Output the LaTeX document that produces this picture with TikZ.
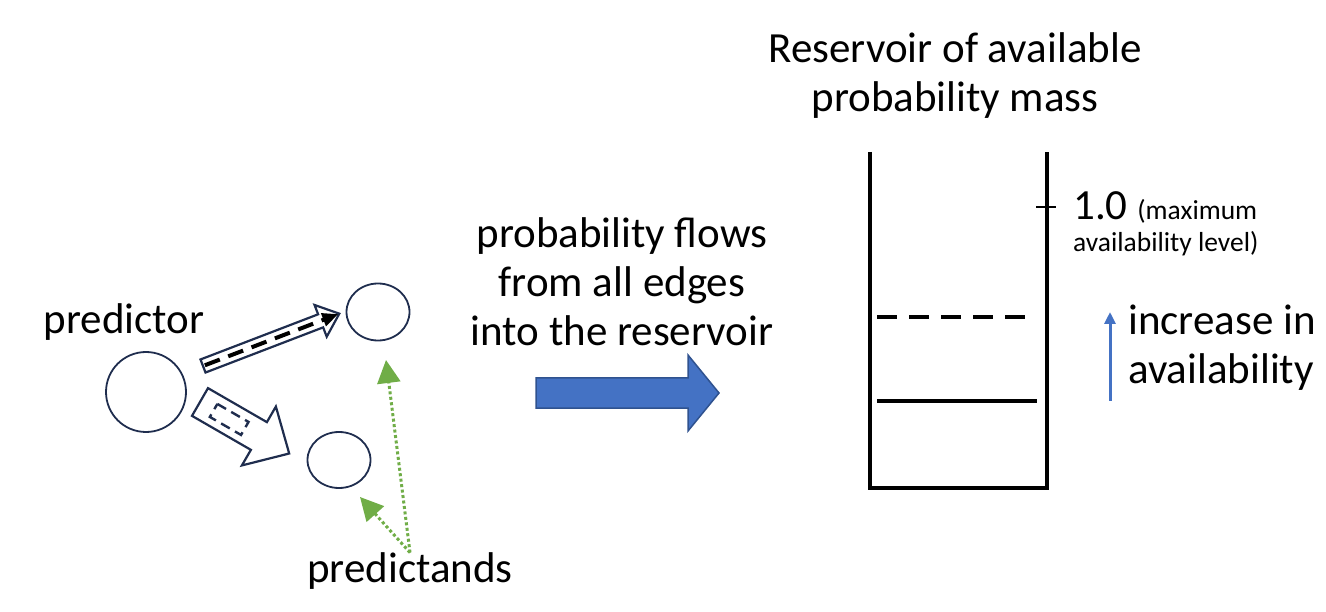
\documentclass[tikz,border=0pt]{standalone}
\usepackage{fontspec}
\setmainfont{Carlito}
\usetikzlibrary{arrows.meta,shapes.geometric}
\definecolor{navy}{RGB}{31,45,78}
\definecolor{flowblue}{RGB}{68,114,196}
\definecolor{flowedge}{RGB}{47,82,143}
\definecolor{leafgreen}{RGB}{112,173,71}

\begin{document}
\begin{tikzpicture}[x=1pt,y=-1pt,
  every node/.style={font=\fontsize{43}{49}\selectfont},
  var/.style={draw=navy,line width=1.8pt,inner sep=0pt},
  blockarrow/.style={draw=navy,line width=2.2pt,line join=miter,fill=white},
  hint/.style={leafgreen,line width=3pt,dash pattern=on 3pt off 2.5pt,-{Triangle[width=23pt,length=23pt]}},
  wall/.style={line width=3.5pt}]
\useasboundingbox (0,0) rectangle (1326,612);

\node[var,circle,minimum size=80pt] (pred) at (146,392) {};
\node[var,ellipse,minimum width=63pt,minimum height=57pt] (ptop) at (378,312) {};
\node[var,ellipse,minimum width=63pt,minimum height=56pt] (pbot) at (339,460) {};
\node[anchor=base] (predlbl) at (124,334) {predictor};
\node[anchor=base] (pandlbl) at (410,582) {predictands};

% edge arrows out of the predictor
\begin{scope}[shift={(203,366)},rotate=21]
\draw[blockarrow] (0,-7) -- (126,-7) -- (126,-17) -- (146,0) -- (126,17) -- (126,7) -- (0,7) -- cycle;
\draw[line width=4pt,dash pattern=on 16pt off 9pt,-{Triangle[width=13pt,length=16pt]}] (2,0) -- (145,0);
\end{scope}
\begin{scope}[shift={(200,402)},rotate=-30]
\draw[blockarrow] (0,-16) -- (68,-16) -- (68,-34) -- (103,0) -- (68,34) -- (68,16) -- (0,16) -- cycle;
\draw[navy,line width=2.4pt,dash pattern=on 10pt off 6pt] (16,-7) -- (52,-7) -- (52,8) -- (16,8) -- cycle;
\end{scope}

\coordinate (tiptop) at (386,360);
\coordinate (tipbot) at (360,497);
\draw[hint] ([yshift=-4pt]pandlbl.north) -- (tiptop);
\draw[hint] ([yshift=-4pt]pandlbl.north) -- (tipbot);

\node[align=center] (flowtxt) at (622,282) {probability flows\\ from all edges\\into the reservoir};
\draw[fill=flowblue,draw=flowedge,line width=1.5pt] (536,378) -- (688,378) -- (688,355) -- (719,393) -- (688,431) -- (688,408) -- (536,408) -- cycle;

% reservoir
\node[align=center] (restitle) at (955,76) {Reservoir of available\\probability mass};
\draw[wall] (870,152) -- (870,488) -- (1047,488) -- (1047,152);
\draw[line width=2pt] (1036,207) -- (1056,207);
\draw[wall,dash pattern=on 20pt off 12pt] (877,317) -- (1032,317);
\draw[wall] (877,401) -- (1037,401);
\node[anchor=base west,inner sep=0pt] (maxlvl) at (1073,220) {1.0 {\fontsize{27.5}{30}\selectfont (maximum}};
\node[anchor=base west,inner sep=0pt] (maxlvl2) at (1073,252) {\fontsize{27.5}{30}\selectfont availability level)};

\coordinate (upfoot) at (1110,401);
\coordinate (uphead) at (1110,312);
\draw[flowblue,line width=3pt,-{Triangle[width=11pt,length=12pt]}] (upfoot) -- (uphead);
\node[anchor=west,align=left,inner sep=0pt] (incr) at (1128,348) {increase in\\availability};
\end{tikzpicture}
\end{document}
